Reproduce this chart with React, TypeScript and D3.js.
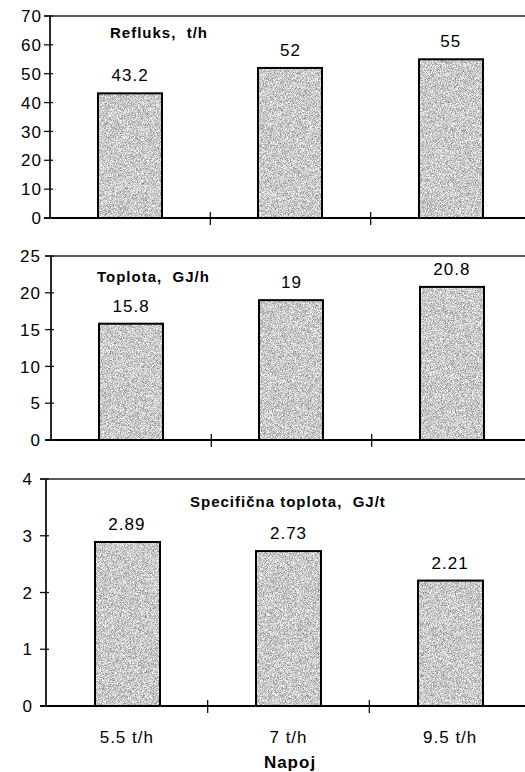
import React from "react";
import * as d3 from "d3";

const categories = ["5.5 t/h", "7 t/h", "9.5 t/h"];
const refluxValues = [43.2, 52, 55];
const heatValues = [15.8, 19, 20.8];
const specificHeatValues = [2.89, 2.73, 2.21];
const refluxTicks = [0, 10, 20, 30, 40, 50, 60, 70];
const heatTicks = [0, 5, 10, 15, 20, 25];
const specificTicks = [0, 1, 2, 3, 4];
const refluxLabels = ["43.2", "52", "55"];
const heatLabels = ["15.8", "19", "20.8"];
const specificLabels = ["2.89", "2.73", "2.21"];
const titles = ["Refluks,  t/h", "Toplota,  GJ/h", "Specifična toplota,  GJ/t"];
const xAxisTitle = "Napoj";

const FONT = "'Liberation Sans', Arial, Helvetica, sans-serif";

type PanelProps = {
  values: number[];
  labels: string[];
  ticks: number[];
  title: string;
  top: number;
  bottom: number;
  axisX: number;
  rightX: number;
  labelRight: number;
  titleX: number;
  titleY: number;
  showCategories: boolean;
};

function Panel(p: PanelProps) {
  const x = d3
    .scaleBand<string>()
    .domain(categories)
    .range([p.axisX, p.rightX])
    .paddingInner(0.6)
    .paddingOuter(0.3);
  const y = d3
    .scaleLinear()
    .domain([0, d3.max(p.ticks) as number])
    .range([p.bottom, p.top]);
  const step = x.step();
  const boundaries = categories.slice(1).map((c) => (x(c) as number) - (step * x.paddingInner()) / 2);
  return (
    <g>
      {categories.map((c, i) => (
        <g key={c}>
          <rect
            x={Math.round(x(c) as number)}
            y={y(p.values[i])}
            width={Math.round(x.bandwidth())}
            height={y(0) - y(p.values[i])}
            fill="#c8c8c8"
            filter="url(#grain)"
          />
          <rect
            x={Math.round(x(c) as number)}
            y={y(p.values[i])}
            width={Math.round(x.bandwidth())}
            height={y(0) - y(p.values[i])}
            fill="none"
            stroke="#000"
            strokeWidth={2}
          />
        </g>
      ))}
      <line x1={p.axisX - 6} x2={525} y1={p.top} y2={p.top} stroke="#222" strokeWidth={1.5} />
      <line x1={p.axisX} x2={p.axisX} y1={p.top} y2={p.bottom} stroke="#111" strokeWidth={1.8} />
      <line x1={p.axisX - 6} x2={525} y1={p.bottom} y2={p.bottom} stroke="#000" strokeWidth={2} />
      {p.ticks.map((t) => (
        <g key={t}>
          <line x1={p.axisX - 6} x2={p.axisX + 3} y1={y(t)} y2={y(t)} stroke="#111" strokeWidth={1.3} />
          <text
            x={p.labelRight}
            y={y(t)}
            dy="0.36em"
            textAnchor="end"
            fontFamily={FONT}
            fontSize={17}
            letterSpacing={1}
            fill="#000"
          >
            {t}
          </text>
        </g>
      ))}
      {boundaries.map((bx, i) => (
        <line key={i} x1={bx} x2={bx} y1={p.bottom - 6} y2={p.bottom + 7} stroke="#111" strokeWidth={1.3} />
      ))}
      {categories.map((c, i) => (
        <text
          key={c}
          x={(x(c) as number) + x.bandwidth() / 2}
          y={y(p.values[i]) - 12}
          textAnchor="middle"
          fontFamily={FONT}
          fontSize={17}
          letterSpacing={1}
          fill="#000"
        >
          {p.labels[i]}
        </text>
      ))}
      <text
        x={p.titleX}
        y={p.titleY}
        fontFamily={FONT}
        fontSize={15}
        fontWeight="bold"
        letterSpacing={1}
        fill="#000"
        style={{ whiteSpace: "pre" }}
      >
        {p.title}
      </text>
      {p.showCategories &&
        categories.map((c) => (
          <text
            key={c}
            x={(x(c) as number) + x.bandwidth() / 2}
            y={p.bottom + 37}
            textAnchor="middle"
            fontFamily={FONT}
            fontSize={17}
            letterSpacing={1}
            fill="#000"
          >
            {c}
          </text>
        ))}
    </g>
  );
}

export default function App() {
  return (
    <svg
      width={525}
      height={772}
      style={{ position: "absolute", left: 0, top: 0, background: "#fff" }}
    >
      <defs>
        <filter id="grain" x="0" y="0" width="1" height="1" colorInterpolationFilters="sRGB">
          <feTurbulence type="fractalNoise" baseFrequency="1.4" numOctaves={2} seed={3} result="noise" />
          <feColorMatrix
            in="noise"
            type="matrix"
            values="0.9 0 0 0 0.34  0.9 0 0 0 0.34  0.9 0 0 0 0.34  0 0 0 0 1"
            result="gray"
          />
          <feComposite in="gray" in2="SourceGraphic" operator="in" />
        </filter>
      </defs>
      <rect width={525} height={772} fill="#fff" />
      <Panel
        values={refluxValues}
        labels={refluxLabels}
        ticks={refluxTicks}
        title={titles[0]}
        top={16}
        bottom={218}
        axisX={50}
        rightX={531}
        labelRight={42}
        titleX={110}
        titleY={38}
        showCategories={false}
      />
      <Panel
        values={heatValues}
        labels={heatLabels}
        ticks={heatTicks}
        title={titles[1]}
        top={256}
        bottom={440}
        axisX={51}
        rightX={532}
        labelRight={41}
        titleX={97}
        titleY={282}
        showCategories={false}
      />
      <Panel
        values={specificHeatValues}
        labels={specificLabels}
        ticks={specificTicks}
        title={titles[2]}
        top={479}
        bottom={706}
        axisX={46}
        rightX={531}
        labelRight={33}
        titleX={190}
        titleY={507}
        showCategories={true}
      />
      <text
        x={290}
        y={768}
        textAnchor="middle"
        fontFamily={FONT}
        fontSize={17}
        fontWeight="bold"
        letterSpacing={1}
        fill="#000"
      >
        {xAxisTitle}
      </text>
    </svg>
  );
}
